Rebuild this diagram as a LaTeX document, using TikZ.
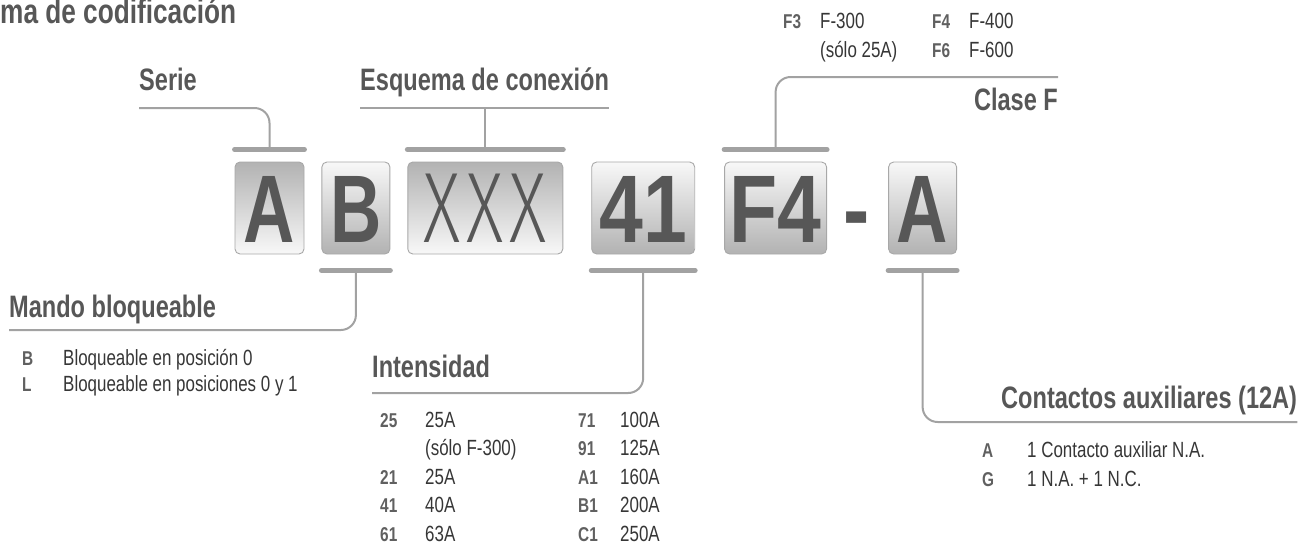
\documentclass[tikz,border=0pt]{standalone}
\usepackage{fontspec}
\setmainfont{Liberation Sans}
\newfontfamily\lblfont{Liberation Sans}[FakeStretch=0.76]
\newfontfamily\itmfont{Liberation Sans}[FakeStretch=0.77]
\newfontfamily\boxfont{Liberation Sans}[FakeStretch=0.82]
\newfontfamily\boxltr{Liberation Sans}[FakeStretch=0.74]
\newfontfamily\thinfont{Fira Sans Light}[FakeStretch=0.72]
\usetikzlibrary{positioning}

\definecolor{txtgray}{HTML}{575757}
\definecolor{itmgray}{HTML}{363636}
\definecolor{codgray}{HTML}{606060}
\definecolor{linegray}{HTML}{A2A2A2}
\definecolor{boxline}{HTML}{A8A8A8}
\definecolor{boxtxt}{HTML}{575757}
\definecolor{shadeD}{HTML}{B2B2B2}
\definecolor{shadeL}{HTML}{F8F8F8}

\begin{document}
\begin{tikzpicture}[
    x=1pt, y=-1pt,
    lbl/.style={anchor=base west, inner sep=0pt, text=txtgray,
        font=\lblfont\bfseries\fontsize{31}{33}\selectfont},
    itm/.style={anchor=base west, inner sep=0pt, text=itmgray,
        font=\itmfont\fontsize{22}{24}\selectfont},
    cod/.style={anchor=base west, inner sep=0pt, text=codgray,
        font=\itmfont\bfseries\fontsize{20}{22}\selectfont},
    codebox/.style={
        rectangle, rounded corners=5pt,
        draw=boxline, line width=0.9pt,
        minimum height=92pt, inner sep=0pt,
        text height=68.7pt, text depth=0pt,
        text=boxtxt, font=\boxfont\bfseries\fontsize{96}{96}\selectfont
    },
    ltrbox/.style={codebox, font=\boxltr\bfseries\fontsize{96}{96}\selectfont},
    gup/.style={top color=shadeD, bottom color=shadeL},
    gdown/.style={top color=shadeL, bottom color=shadeD},
    bar/.style={draw=linegray, line width=5pt, line cap=round},
    lead/.style={draw=linegray, line width=2pt, rounded corners=15pt},
]
\useasboundingbox (0,0) rectangle (1298,544);

% ---------- Title ----------
\node[lbl, font=\lblfont\bfseries\fontsize{34.5}{36}\selectfont] (title) at (0,23) {ma de codificación};

% ---------- Code boxes ----------
\node[ltrbox, gup, minimum width=69pt] (bA) at (269.5,208) {A};
\node[ltrbox, gdown, minimum width=68pt, right=17pt of bA] (bB) {B};
\node[codebox, gup, minimum width=155pt, right=17pt of bB,
      font=\thinfont\fontsize{100}{100}\selectfont] (bX) {X\kern6pt X\kern6pt X};
\node[codebox, gdown, minimum width=103pt, right=28pt of bX] (b41) {41};
\node[codebox, gdown, minimum width=102pt, right=29pt of b41] (bF) {F4};
\node[codebox, draw=none, minimum height=0pt, right=16pt of bF] (dsh) {-};
\node[ltrbox, gdown, minimum width=68pt, right=18pt of dsh] (bA2) {A};

% ---------- Bars ----------
\draw[bar] ([yshift=12pt]bA.north west) -- ([yshift=12pt]bA.north east);
\draw[bar] ([yshift=12pt]bX.north west) -- ([yshift=12pt]bX.north east);
\draw[bar] ([yshift=12pt]bF.north west) -- ([yshift=12pt]bF.north east);
\draw[bar] ([yshift=-16pt]bB.south west) -- ([yshift=-16pt]bB.south east);
\draw[bar] ([yshift=-16pt]b41.south west) -- ([yshift=-16pt]b41.south east);
\draw[bar] ([yshift=-16pt]bA2.south west) -- ([yshift=-16pt]bA2.south east);

% ---------- Labels ----------
\node[lbl] (serie) at (139,90) {Serie};
\node[lbl] (esq) at (360,90) {Esquema de conexión};
\node[lbl, anchor=base east] (clasef) at (1058,110) {Clase F};
\node[lbl] (mando) at (9,317) {Mando bloqueable};
\node[lbl] (intens) at (372,377) {Intensidad};
\node[lbl] (contact) at (1001,408) {Contactos auxiliares (12A)};

% ---------- Leader lines ----------
\draw[lead] (serie.base west |- 0,108) -| ([yshift=12pt]bA.north);
\draw[lead] (esq.base west |- 0,108) -- (esq.base east |- 0,108);
\draw[lead] ([yshift=12pt]bX.north) -- (bX.north |- 0,108);
\draw[lead] (clasef.base east |- 0,77) -| ([yshift=12pt]bF.north);
\draw[lead] (mando.base west |- 0,330) -| ([yshift=-16pt]bB.south);
\draw[lead] (intens.base west |- 0,393) -| ([yshift=-16pt]b41.south);
\draw[lead] (contact.base east |- 0,422) -| ([yshift=-16pt]bA2.south);

% ---------- Clase F options ----------
\node[cod] (f3) at (783,28) {F3};
\node[itm] (f3t) at (820,28) {F-300};
\node[itm] (f3n) at (820,57) {(sólo 25A)};
\node[cod] (f4) at (932,28) {F4};
\node[itm] (f4t) at (969,28) {F-400};
\node[cod] (f6) at (932,57) {F6};
\node[itm] (f6t) at (969,57) {F-600};

% ---------- Mando options ----------
\node[cod] (mB) at (22,365) {B};
\node[itm] (mBt) at (63,365) {Bloqueable en posición 0};
\node[cod] (mL) at (22,391) {L};
\node[itm] (mLt) at (63,391) {Bloqueable en posiciones 0 y 1};

% ---------- Intensidad options ----------
\node[cod] (i25) at (380,427) {25};
\node[itm] (i25t) at (425,427) {25A};
\node[itm] (i25n) at (425,455.5) {(sólo F-300)};
\node[cod] (i21) at (380,484) {21};
\node[itm] (i21t) at (425,484) {25A};
\node[cod] (i41) at (380,512.5) {41};
\node[itm] (i41t) at (425,512.5) {40A};
\node[cod] (i61) at (380,541) {61};
\node[itm] (i61t) at (425,541) {63A};
\node[cod] (i71) at (578,427) {71};
\node[itm] (i71t) at (620,427) {100A};
\node[cod] (i91) at (578,455.5) {91};
\node[itm] (i91t) at (620,455.5) {125A};
\node[cod] (iA1) at (578,484) {A1};
\node[itm] (iA1t) at (620,484) {160A};
\node[cod] (iB1) at (578,512.5) {B1};
\node[itm] (iB1t) at (620,512.5) {200A};
\node[cod] (iC1) at (578,541) {C1};
\node[itm] (iC1t) at (620,541) {250A};

% ---------- Contactos options ----------
\node[cod] (cA) at (982,457) {A};
\node[itm] (cAt) at (1027,457) {1 Contacto auxiliar N.A.};
\node[cod] (cG) at (982,486) {G};
\node[itm] (cGt) at (1027,486) {1 N.A. + 1 N.C.};

\end{tikzpicture}
\end{document}
